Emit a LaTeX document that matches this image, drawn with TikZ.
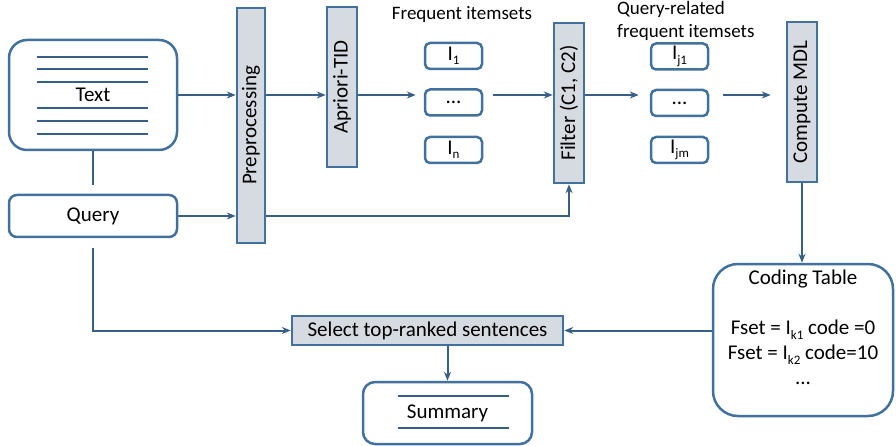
\documentclass[tikz,border=0pt]{standalone}
\usepackage{fontspec}
\setmainfont{Carlito}
\usepackage{graphicx}
\usetikzlibrary{arrows.meta,calc,positioning}

\definecolor{boxblue}{HTML}{41719C}
\definecolor{linkblue}{HTML}{385F88}
\definecolor{stepgray}{HTML}{D6DAE1}

\tikzset{
  doc/.style={draw=boxblue, line width=2.5pt, minimum width=168pt, align=center},
  proc/.style={draw=boxblue, fill=stepgray, line width=2.5pt, inner sep=0pt},
  iset/.style={draw=boxblue, line width=2.5pt, rounded corners=5pt, minimum width=57pt, minimum height=26pt, inner sep=0pt},
  link/.style={draw=linkblue, line width=2pt},
  arr/.style={link, -{Stealth[length=9pt,width=7pt]}},
  rule/.style={draw=linkblue, line width=2.2pt},
  heading/.style={font=\fontsize{19}{23}\selectfont},
}
\newcommand{\vtext}[1]{\rotatebox{90}{#1}}
% low, small index as in I_k1
\newcommand{\idx}[1]{\raisebox{-4.5pt}{\fontsize{13}{13}\selectfont #1}}

\begin{document}
\begin{tikzpicture}[x=1pt, y=-1pt, font=\fontsize{21}{25}\selectfont]
\useasboundingbox (0,0) rectangle (896,446);

% inputs
\node[doc, minimum height=110pt, rounded corners=18pt] (text) at (93,95) {Text};
\foreach \dy in {-38,-26,-13,13,26,39}
  \draw[rule] ($(text.center)+(-56,\dy)$) -- ++(111,0);
\node[doc, minimum height=42pt, rounded corners=8pt] (query) at (93,216) {Query};

% processing steps
\node[proc, minimum width=28pt, minimum height=235pt] (prep) at (251,125.5) {\vtext{Preprocessing}};
\node[proc, minimum width=30pt, minimum height=160pt] (apriori) at (342,87) {\vtext{Apriori-TID}};
\node[proc, minimum width=30pt, minimum height=160pt] (filter) at (569,103) {\vtext{Filter (C1, C2)}};
\node[proc, minimum width=30pt, minimum height=160pt] (mdl) at (802,102) {\vtext{Compute MDL}};

% itemsets
\node[heading] (freq) at (462,14) {Frequent itemsets};
\node[iset] (i1) at (453.5,56) {I\idx{1}};
\node[iset] (idots) at (453.5,102.5) {...};
\node[iset] (in) at (453.5,150) {I\idx{n}};

\node[heading, align=left, anchor=north west, inner sep=0pt] (qfreq) at (617,1) {Query-related\\frequent itemsets};
\node[iset] (j1) at (679.5,56.5) {I\idx{j1}};
\node[iset] (jdots) at (679.5,103) {...};
\node[iset] (jm) at (679.5,150) {I\idx{jm}};

% output side
\node[proc, minimum width=271pt, minimum height=29pt] (select) at (427.5,330.5) {Select top-ranked sentences};
\node[doc, minimum width=169pt, minimum height=62pt, rounded corners=12pt] (summary) at (447.5,413) {Summary};
\draw[rule] ($(summary.center)+(-50,-17)$) -- ++(111,0);
\draw[rule] ($(summary.center)+(-50,15)$) -- ++(111,0);
\node[doc, minimum width=180pt, minimum height=152pt, rounded corners=25pt] (coding) at (803,340)
  {Coding Table\\[25pt]Fset = I\idx{k1} code =0\\Fset = I\idx{k2} code=10\\...\\\mbox{}};

% connectors
\draw[arr] (text.east) -- (text.east -| prep.west);
\draw[arr] (query.east) -- (query.east -| prep.west);
\draw[link, shorten >=9pt] (text.south) -- (query.north);
\draw[arr] (prep.east |- text) -- (apriori.west |- text);
\draw[arr, shorten >=8pt] (apriori.east |- text) -- (idots.west |- text);
\draw[arr, shorten <=10pt] (idots.east |- text) -- (filter.west |- text);
\draw[arr, shorten >=11pt] (filter.east |- text) -- (jdots.west |- text);
\draw[arr, shorten <=14pt, shorten >=15pt] (jdots.east |- text) -- (mdl.west |- text);
\draw[arr] (prep.east |- query) -| (filter.south);
\draw[arr] (mdl.south) -- (mdl.south |- coding.north);
\draw[arr] (coding.west |- select) -- (select.east);
\draw[arr, shorten <=10pt] (query.south) |- (select.west);
\draw[arr] (summary.north |- select.south) -- (summary.north);
\end{tikzpicture}
\end{document}
